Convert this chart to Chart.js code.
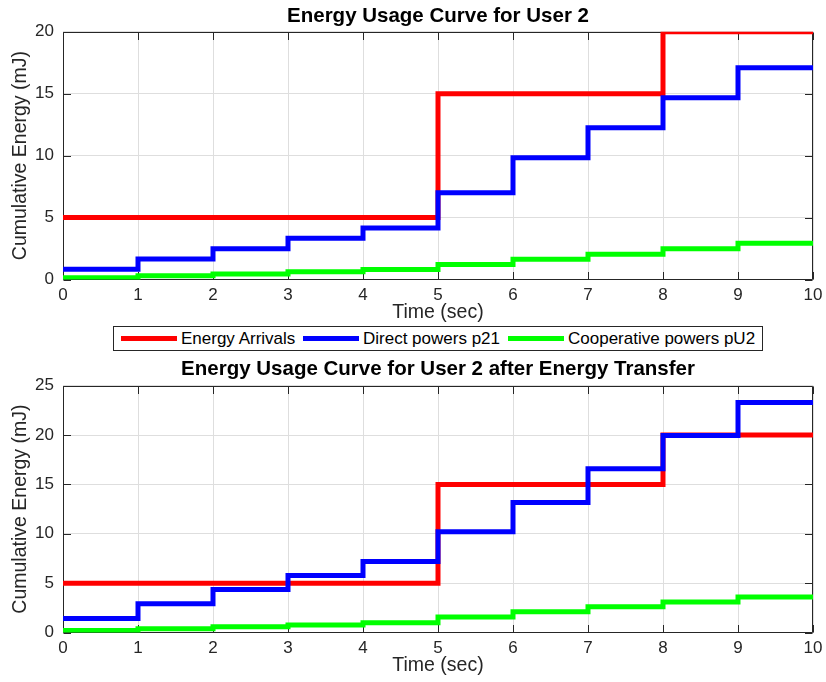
<!DOCTYPE html>
<html>
<head>
<meta charset="utf-8">
<script src="https://cdn.jsdelivr.net/npm/chart.js@4/dist/chart.umd.min.js"></script>
<style>
  html, body { margin:0; padding:0; background:#fff; }
  body { width:826px; height:682px; position:relative; overflow:hidden; font-family:"Liberation Sans", Arial, sans-serif; }
  canvas { position:absolute; left:0; }
  #c1 { top:0; }
  #c2 { top:353px; }
  #legend { position:absolute; left:113px; top:326px; width:650px; height:25px; box-sizing:border-box;
            border:1px solid rgb(38,38,38); background:#fff; }
  #legend .ln { position:absolute; top:9px; height:5px; }
  #legend .tx { position:absolute; top:2px; font-size:17px; line-height:20px; color:#000; white-space:nowrap; }
</style>
</head>
<body>
<canvas id="c1" width="826" height="324"></canvas>
<div id="legend"></div>
<canvas id="c2" width="826" height="324"></canvas>
<script>
// ---- data ----
const timeSlots = [0, 1, 2, 3, 4, 5, 6, 7, 8, 9, 10];
const seriesNames = ['Energy Arrivals', 'Direct powers p21', 'Cooperative powers pU2'];
const seriesColors = ['rgb(255,0,0)', 'rgb(0,0,255)', 'rgb(0,255,0)'];
const xTicks = [0, 1, 2, 3, 4, 5, 6, 7, 8, 9, 10];
const yTicksTop = [0, 5, 10, 15, 20];
const yTicksBottom = [0, 5, 10, 15, 20, 25];

// Top panel: Energy Usage Curve for User 2
const arrivalsTop = [5, 5, 5, 5, 5, 15, 15, 15, 20, 20];
const directTop   = [0.82, 1.65, 2.48, 3.32, 4.15, 7.0, 9.82, 12.24, 14.66, 17.1];
const coopTop     = [0.15, 0.3, 0.45, 0.62, 0.8, 1.22, 1.63, 2.03, 2.48, 2.92];

// Bottom panel: after Energy Transfer
const arrivalsBottom = [5, 5, 5, 5, 5, 15, 15, 15, 20, 20];
const directBottom   = [1.42, 2.9, 4.36, 5.77, 7.19, 10.2, 13.17, 16.58, 19.96, 23.3];
const coopBottom     = [0.2, 0.37, 0.57, 0.76, 0.98, 1.58, 2.09, 2.6, 3.1, 3.6];

const titles = ['Energy Usage Curve for User 2', 'Energy Usage Curve for User 2 after Energy Transfer'];
const xLabel = 'Time (sec)';
const yLabel = 'Cumulative Energy (mJ)';

// ---- helpers ----
const FONT = '"Liberation Sans", Arial, Helvetica, sans-serif';
const AXC = 'rgb(38,38,38)';
const GRIDC = 'rgb(222,222,222)';

function stepPoints(vals) {
  const pts = vals.map((v, i) => ({ x: timeSlots[i], y: v }));
  pts.push({ x: timeSlots[vals.length], y: vals[vals.length - 1] });
  return pts;
}

const boxPlugin = {
  id: 'matlabBox',
  beforeDatasetsDraw(chart) {
    const { ctx, chartArea, scales } = chart;
    const L = Math.round(chartArea.left) + 0.5, R = Math.round(chartArea.right) - 0.5;
    const T = Math.round(chartArea.top) + 0.5, B = Math.round(chartArea.bottom) - 0.5;
    const tl = 7.5;
    ctx.save();
    ctx.strokeStyle = AXC;
    ctx.lineWidth = 1;
    ctx.beginPath();
    ctx.rect(L, T, R - L, B - T);
    scales.x.ticks.forEach(t => {
      const p = Math.round(scales.x.getPixelForValue(t.value)) + 0.5;
      ctx.moveTo(p, B); ctx.lineTo(p, B - tl);
      ctx.moveTo(p, T); ctx.lineTo(p, T + tl);
    });
    scales.y.ticks.forEach(t => {
      const p = Math.round(scales.y.getPixelForValue(t.value)) + 0.5;
      ctx.moveTo(L, p); ctx.lineTo(L + tl, p);
      ctx.moveTo(R, p); ctx.lineTo(R - tl, p);
    });
    ctx.stroke();
    ctx.restore();
  }
};

function makeChart(id, title, arr, dir, coop, yTickVals, titlePad) {
  const data = [arr, dir, coop];
  return new Chart(document.getElementById(id), {
    type: 'line',
    data: {
      datasets: data.map((vals, i) => ({
        label: seriesNames[i],
        data: stepPoints(vals),
        borderColor: seriesColors[i],
        backgroundColor: seriesColors[i],
        borderWidth: 5,
        stepped: 'before',
        pointRadius: 0,
        fill: false,
        borderCapStyle: 'square',
        borderJoinStyle: 'miter',
        order: 3 - i
      }))
    },
    options: {
      responsive: false,
      animation: false,
      devicePixelRatio: 1,
      layout: { padding: { left: 0, right: 13, top: 0, bottom: 0 } },
      plugins: {
        legend: { display: false },
        tooltip: { enabled: false },
        title: {
          display: true, text: title, fullSize: false, color: '#000',
          font: { family: FONT, size: 20.5, weight: 'bold' },
          padding: titlePad
        }
      },
      scales: {
        x: {
          type: 'linear', min: 0, max: 10,
          afterBuildTicks: s => { s.ticks = xTicks.map(v => ({ value: v })); },
          afterFit: s => { s.height = 44.5; s.paddingLeft = 0; s.paddingRight = 0; },
          grid: { color: GRIDC, lineWidth: 1, drawTicks: false },
          border: { display: false },
          ticks: { color: AXC, font: { family: FONT, size: 17 }, padding: 5.4, maxRotation: 0 },
          title: { display: true, text: xLabel, color: AXC, font: { family: FONT, size: 19.5 }, padding: { top: 0, bottom: 0 } }
        },
        y: {
          type: 'linear', min: 0, max: yTickVals[yTickVals.length - 1],
          afterBuildTicks: s => { s.ticks = yTickVals.map(v => ({ value: v })); },
          afterFit: s => { s.width = 63; s.paddingTop = 0; s.paddingBottom = 0; },
          grid: { color: GRIDC, lineWidth: 1, drawTicks: false },
          border: { display: false },
          ticks: { color: AXC, font: { family: FONT, size: 17 }, padding: 9 },
          title: { display: true, text: yLabel, color: AXC, font: { family: FONT, size: 19.5 }, padding: { top: 8.9, bottom: 0 } }
        }
      }
    },
    plugins: [boxPlugin]
  });
}

makeChart('c1', titles[0], arrivalsTop, directTop, coopTop, yTicksTop, { top: 4.1, bottom: 3.0 });
makeChart('c2', titles[1], arrivalsBottom, directBottom, coopBottom, yTicksBottom, { top: 4.3, bottom: 3.8 });

// ---- legend (HTML, real text) ----
const legendLineLeft = [7, 189, 394];
const legend = document.getElementById('legend');
seriesNames.forEach((name, i) => {
  const ln = document.createElement('div');
  ln.className = 'ln';
  ln.style.left = legendLineLeft[i] + 'px';
  ln.style.width = '56px';
  ln.style.background = seriesColors[i];
  legend.appendChild(ln);
  const tx = document.createElement('span');
  tx.className = 'tx';
  tx.style.left = (legendLineLeft[i] + 60) + 'px';
  tx.textContent = name;
  legend.appendChild(tx);
});
</script>
</body>
</html>
